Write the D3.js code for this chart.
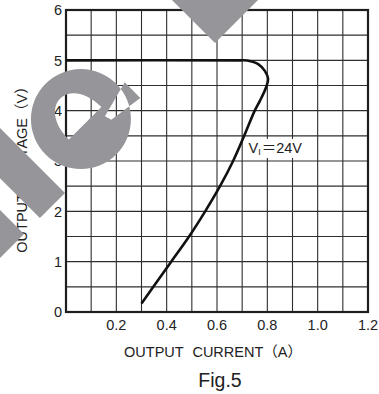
<!DOCTYPE html>
<html><head><meta charset="utf-8">
<script src="https://cdn.jsdelivr.net/npm/d3@7"></script>
<style>html,body{margin:0;padding:0;background:#fff;} svg{display:block;}</style>
</head><body>
<svg id="chart" width="379" height="394"></svg>
<script>
// Output voltage vs. output current characteristic (VI = 24V)
const currentA = [0.00, 0.69, 0.72, 0.765, 0.79, 0.803, 0.794, 0.771, 0.750, 0.708, 0.664, 0.612, 0.553, 0.489, 0.418, 0.347, 0.300];
const voltageV = [5.00, 5.00, 4.995, 4.92, 4.79, 4.63, 4.45, 4.20, 4.00, 3.50, 3.00, 2.50, 2.00, 1.50, 1.00, 0.50, 0.17];
const xTickLabels = [0.2, 0.4, 0.6, 0.8, 1.0, 1.2];
const yTickLabels = [0, 1, 2, 3, 4, 5, 6];
const xGrid = [0.1, 0.2, 0.3, 0.4, 0.5, 0.6, 0.7, 0.8, 0.9, 1.0, 1.1];
const yGrid = [0.5, 1, 1.5, 2, 2.5, 3, 3.5, 4, 4.5, 5, 5.5];

const FONT = "'Liberation Sans', Arial, 'Noto Sans CJK JP', sans-serif";
const INK = "#222";

const svg = d3.select("#chart");
const x = d3.scaleLinear().domain([0, 1.2]).range([66, 368]);
const y = d3.scaleLinear().domain([0, 6]).range([312, 10]);

// grid
svg.append("g").selectAll("line").data(xGrid).join("line")
  .attr("x1", d => x(d)).attr("x2", d => x(d))
  .attr("y1", y(0)).attr("y2", y(6))
  .attr("stroke", "#2e2e2e").attr("stroke-width", 1.1);
svg.append("g").selectAll("line").data(yGrid).join("line")
  .attr("x1", x(0)).attr("x2", x(1.2))
  .attr("y1", d => y(d)).attr("y2", d => y(d))
  .attr("stroke", "#2e2e2e").attr("stroke-width", 1.1);

// frame
svg.append("rect")
  .attr("x", x(0)).attr("y", y(6))
  .attr("width", x(1.2) - x(0)).attr("height", y(0) - y(6))
  .attr("fill", "none").attr("stroke", "#1e1e1e").attr("stroke-width", 2.2);

// tick labels
svg.append("g").selectAll("text").data(xTickLabels).join("text")
  .attr("x", d => x(d)).attr("y", 330)
  .attr("text-anchor", "middle")
  .attr("font-family", FONT).attr("font-size", 14.5).attr("fill", INK)
  .text(d => d.toFixed(1));
svg.append("g").selectAll("text").data(yTickLabels).join("text")
  .attr("x", x(0) - 4).attr("y", d => y(d)).attr("dy", "0.36em")
  .attr("text-anchor", "end")
  .attr("font-family", FONT).attr("font-size", 14.5).attr("fill", INK)
  .text(d => d);

// characteristic curve
const line = d3.line()
  .x((d, i) => x(currentA[i]))
  .y((d, i) => y(voltageV[i]))
  .curve(d3.curveCatmullRom.alpha(0.5));
svg.append("path")
  .attr("d", line(currentA))
  .attr("fill", "none").attr("stroke", "#111").attr("stroke-width", 2.6)
  .attr("stroke-linejoin", "round").attr("stroke-linecap", "butt");

// condition label with white backing
const lbl = svg.append("g");
const lblText = lbl.append("text")
  .attr("x", x(0.725)).attr("y", y(3.16))
  .attr("font-family", FONT).attr("font-size", 14.5).attr("fill", INK);
lblText.append("tspan").text("V");
lblText.append("tspan").attr("font-size", 9).attr("dy", 2).text("I");
lblText.append("tspan").attr("dy", -2).attr("dx", 1).text("＝24V");
const bb = lblText.node().getBBox();
lbl.insert("rect", "text")
  .attr("x", bb.x - 2).attr("y", bb.y - 1)
  .attr("width", bb.width + 4).attr("height", bb.height + 2)
  .attr("fill", "#fff");

// axis titles
svg.append("text")
  .attr("x", 213).attr("y", 357)
  .attr("text-anchor", "middle")
  .attr("font-family", FONT).attr("font-size", 14.5).attr("fill", INK)
  .attr("word-spacing", 5)
  .text("OUTPUT CURRENT（A）");
svg.append("text")
  .attr("transform", "translate(27,166) rotate(-90)")
  .attr("text-anchor", "middle")
  .attr("font-family", FONT).attr("font-size", 14.5).attr("fill", INK)
  .attr("word-spacing", 5)
  .text("OUTPUT VOLTAGE（V）");
svg.append("text")
  .attr("x", 220).attr("y", 387)
  .attr("text-anchor", "middle")
  .attr("font-family", FONT).attr("font-size", 19.5).attr("fill", INK)
  .text("Fig.5");

// diagonal overlay lettering (local frame: x along baseline, y downwards)
const wm = svg.append("g")
  .attr("transform", "translate(129,129) rotate(-45)")
  .attr("fill", "#96969a");
const ePath = d3.path();
// outer bowl
ePath.moveTo(23, -41);
ePath.arc(-27, -41, 50, 0, Math.PI * 2);
ePath.closePath();
// eye
ePath.moveTo(-50, -35);
ePath.bezierCurveTo(-50, -82, -4, -82, -4, -35);
ePath.closePath();
// opening
ePath.moveTo(-8, -26);
ePath.lineTo(30, -36);
ePath.lineTo(30, -14);
ePath.lineTo(-6, -19);
ePath.closePath();
wm.append("path").attr("d", ePath.toString()).attr("fill-rule", "evenodd");
wm.append("rect").attr("x", -126).attr("y", -300).attr("width", 35.5).attr("height", 300);
wm.append("rect").attr("x", -240).attr("y", -300).attr("width", 91.5).attr("height", 300);
wm.append("rect").attr("x", 121.6).attr("y", -300).attr("width", 120).attr("height", 300);
</script>
</body></html>
